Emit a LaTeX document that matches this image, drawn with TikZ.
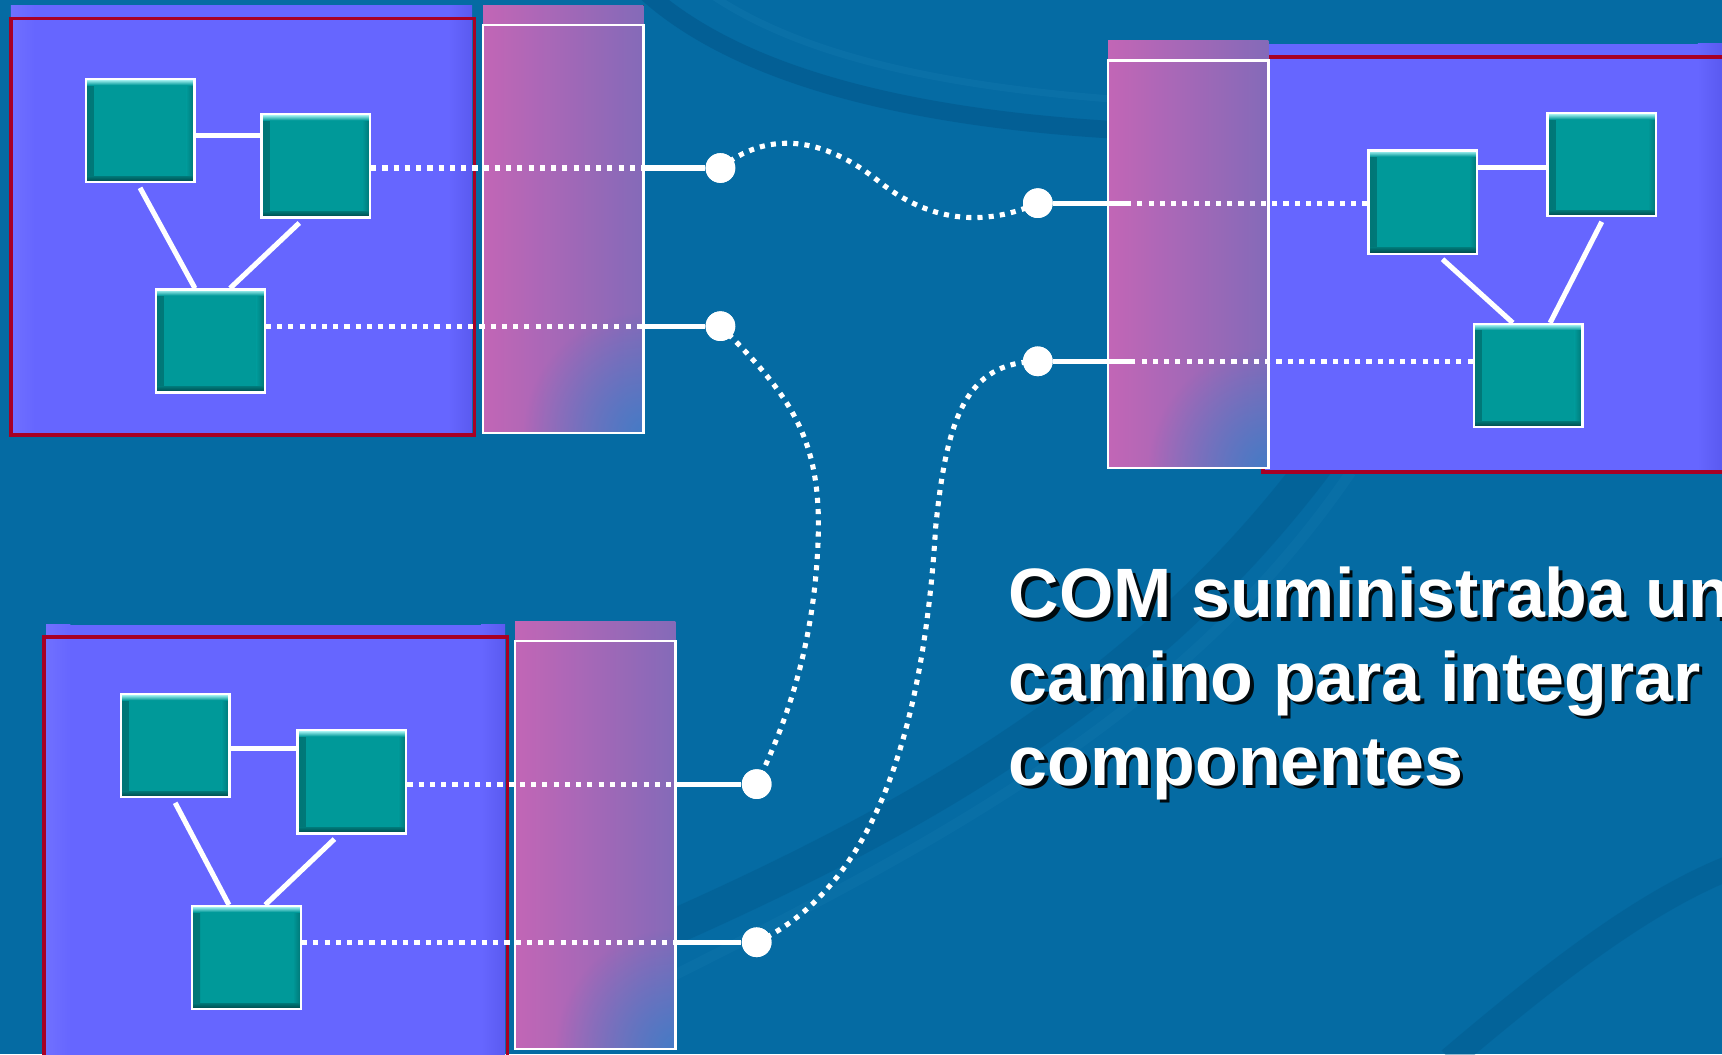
\documentclass[tikz,border=0pt]{standalone}
\usepackage{fontspec}
\setmainfont{Liberation Sans}
\usetikzlibrary{calc,fadings}

\definecolor{bgblue}{RGB}{5,107,163}
\definecolor{bgdark}{RGB}{2,88,140}
\definecolor{bglite}{RGB}{24,124,178}
\definecolor{boxblue}{RGB}{102,102,255}
\definecolor{boxlite}{RGB}{112,112,255}
\definecolor{boxedge}{RGB}{90,90,240}
\definecolor{framered}{RGB}{168,0,36}
\definecolor{busL}{RGB}{194,102,182}
\definecolor{busR}{RGB}{132,106,184}
\definecolor{busblue}{RGB}{58,126,200}
\definecolor{teal0}{RGB}{0,153,153}
\definecolor{tealside}{RGB}{0,118,118}
\definecolor{tealdeep}{RGB}{0,68,70}
\definecolor{teallite}{RGB}{190,255,255}

\tikzfading[name=cornerglow, inner color=transparent!15, outer color=transparent!100]

\tikzset{
  panelframe/.style={draw=framered, line width=1pt},
  busfill/.style={left color=busL, right color=busR},
  busframe/.style={draw=white, line width=0.65pt},
  comp/.style={rectangle, draw=white, line width=0.65pt, fill=teal0,
    minimum width=1.0872cm, minimum height=1.0323cm, inner sep=0pt,
    path picture={
      \fill[left color=tealside, right color=teal0]
        (path picture bounding box.south west) rectangle ([xshift=0.8mm]path picture bounding box.north west);
      \fill[left color=teal0, right color=tealside]
        ([xshift=-0.8mm]path picture bounding box.south east) rectangle (path picture bounding box.north east);
      \fill[top color=teallite, bottom color=teal0]
        ([yshift=-0.6mm]path picture bounding box.north west) rectangle (path picture bounding box.north east);
      \fill[top color=tealside, bottom color=tealdeep]
        (path picture bounding box.south west) rectangle ([yshift=0.6mm]path picture bounding box.south east);
    }},
  port/.style={circle, fill=white, minimum size=0.2965cm, inner sep=0pt},
  wire/.style={draw=white, line width=1.45pt},
  dotwire/.style={draw=white, line width=1.45pt, dash pattern=on 1.45pt off 1.75pt},
  headline/.style={anchor=base west, align=left, inner sep=0pt,
    font=\bfseries\fontsize{19.9}{23.8}\selectfont},
}

% an interface bar: shaded body, bluish lower corner, white frame below the top strip
\newcommand\busbar[5]{% x0, ytop, x1, yframe, ybottom
  \fill[busfill] (#1,#2) rectangle (#3,#5);
  \begin{scope}
    \clip (#1,#2) rectangle (#3,#5);
    \fill[busblue, path fading=cornerglow] (#3,#5) circle[radius=1.2cm];
  \end{scope}
  \draw[busframe] (#1,#4) rectangle (#3,#5);
}

\begin{document}
\begin{tikzpicture}[x=0.010982cm, y=-0.010982cm]
\useasboundingbox (0,0) rectangle (1568,960);
\clip (0,0) rectangle (1568,960);

% backdrop with soft swirls
\fill[bgblue] (0,0) rectangle (1568,960);
\draw[bgdark, line width=5pt, opacity=0.6] (585,-10) .. controls (660,60) and (800,105) .. (1010,118);
\draw[bglite, line width=2pt, opacity=0.3] (640,-10) .. controls (710,40) and (820,75) .. (1010,90);
\draw[bgdark, line width=10pt, opacity=0.4] (600,850) .. controls (850,740) and (1050,620) .. (1200,420);
\draw[bglite, line width=3pt, opacity=0.25] (590,900) .. controls (850,770) and (1080,650) .. (1230,430);
\draw[bgdark, line width=7pt, opacity=0.4] (1320,965) .. controls (1420,880) and (1500,820) .. (1575,790);

% component containers
\fill[boxblue] (10,5) rectangle (430,396);
\fill[left color=boxlite, right color=boxblue] (10,5) rectangle (32,396);
\fill[left color=boxblue, right color=boxedge] (408,5) rectangle (430,396);
\draw[panelframe] (10,17) rectangle (432,396);

\fill[boxblue] (1150,40) rectangle (1580,430);
\fill[left color=boxblue, right color=boxedge] (1546,40) rectangle (1568,430);
\draw[panelframe] (1150,52) rectangle (1590,430);

\fill[boxblue] (42,569) rectangle (460,975);
\fill[left color=boxlite, right color=boxblue] (42,569) rectangle (64,975);
\fill[left color=boxblue, right color=boxedge] (438,569) rectangle (460,975);
\draw[panelframe] (40,580) rectangle (462,980);

% interface bars
\busbar{440}{5}{586}{23}{394}
\busbar{1009}{37}{1155}{55}{426}
\busbar{469}{566}{615}{584}{955}

% connection points
\coordinate (j1) at (586,153);
\coordinate (j2) at (586,297);
\coordinate (j3) at (1030,185);
\coordinate (j4) at (1030,329);
\coordinate (j5) at (615,714);
\coordinate (j6) at (615,858);

\node[port] (c1) at (656,153) {};
\node[port] (c2) at (656,297) {};
\node[port] (c3) at (945,185) {};
\node[port] (c4) at (945,329) {};
\node[port] (c5) at (689,714) {};
\node[port] (c6) at (689,858) {};

% components
\node[comp] (A) at (127.5,119) {};
\node[comp] (B) at (287.5,151) {};
\node[comp] (C) at (191.5,310.5) {};

\node[comp] (D) at (1295.5,184) {};
\node[comp] (E) at (1458.5,150) {};
\node[comp] (F) at (1391.5,342) {};

\node[comp] (G) at (159.5,679) {};
\node[comp] (H) at (320.5,712) {};
\node[comp] (I) at (224.5,872) {};

% links inside each container
\draw[wire] ([yshift=-0.5mm]A.east) -- ([yshift=-0.5mm]A.east -| B.west);
\draw[wire] ($(A.south)+(0,4)$) -- ($(C.north)+(-14,0)$);
\draw[wire] ($(B.south)+(-15,4)$) -- ($(C.north)+(18,0)$);

\draw[wire] ([yshift=-0.3mm]E.west -| D.east) -- ([yshift=-0.3mm]E.west);
\draw[wire] ($(E.south)+(0,4)$) -- ($(F.north)+(20,0)$);
\draw[wire] ($(D.south)+(18,4)$) -- ($(F.north)+(-14,0)$);

\draw[wire] ([yshift=-0.3mm]G.east) -- ([yshift=-0.3mm]G.east -| H.west);
\draw[wire] ($(G.south)+(0,4)$) -- ($(I.north)+(-16,0)$);
\draw[wire] ($(H.south)+(-16,4)$) -- ($(I.north)+(17,0)$);

% links from components out through the bars
\draw[dotwire] (c1 -| B.east) -- (j1);
\draw[wire] (j1) -- (c1);
\draw[dotwire] (c2 -| C.east) -- (j2);
\draw[wire] (j2) -- (c2);

\draw[dotwire] (c3 -| D.west) -- (j3);
\draw[wire] (j3) -- (c3);
\draw[dotwire] (c4 -| F.west) -- (j4);
\draw[wire] (j4) -- (c4);

\draw[dotwire] (c5 -| H.east) -- (j5);
\draw[wire] (j5) -- (c5);
\draw[dotwire] (c6 -| I.east) -- (j6);
\draw[wire] (j6) -- (c6);

% remote connections
\draw[dotwire] (c1.center) .. controls (700,118) and (750,125) .. (800,165)
  .. controls (850,205) and (900,205) .. (c3.center);
\draw[dotwire] (c2.center) .. controls (720,360) and (748,400) .. (745,490)
  .. controls (742,580) and (720,650) .. (c5.center);
\draw[dotwire] (c4.center) .. controls (880,330) and (862,380) .. (852,480)
  .. controls (840,680) and (790,810) .. (c6.center);

% redraw the end points on top of the curves
\foreach \p in {c1,c2,c3,c4,c5,c6} \fill[white] (\p) circle[radius=0.1483cm];

% caption (the base anchor sits on the last line)
\node[headline, text=black, opacity=0.9] (shadow) at (921,718)
  {COM suministraba un\\camino para integrar\\componentes};
\node[headline, text=white] (caption) at (918,715)
  {COM suministraba un\\camino para integrar\\componentes};
\end{tikzpicture}
\end{document}
